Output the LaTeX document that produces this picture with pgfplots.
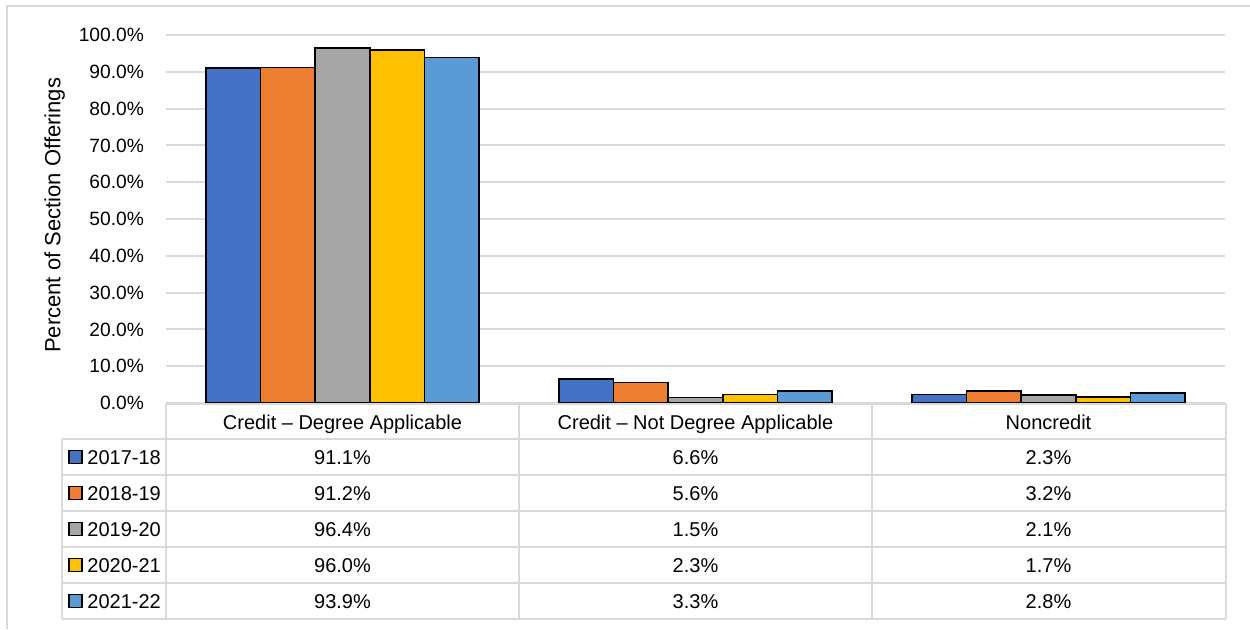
\documentclass[border=0pt]{standalone}
\usepackage{fontspec}
\setmainfont{Liberation Sans}
\usepackage{pgfplots}
\pgfplotsset{compat=1.18}
\definecolor{sA}{HTML}{4472C4}
\definecolor{sB}{HTML}{ED7D31}
\definecolor{sC}{HTML}{A5A5A5}
\definecolor{sD}{HTML}{FFC000}
\definecolor{sE}{HTML}{5B9BD5}
\definecolor{rule}{HTML}{D9D9D9}
\newcommand{\fs}{\fontsize{10}{12}\selectfont}
\begin{document}
\begin{tikzpicture}
\path[use as bounding box] (0,0) rectangle (625pt,314.5pt);
\begin{axis}[
  at={(83pt,113pt)}, anchor=south west,
  scale only axis,
  width=529.5pt, height=184pt,
  ybar=0pt, bar width=27.3pt,
  xmin=-0.5, xmax=2.5,
  ymin=0, ymax=100,
  ytick={0,10,...,100},
  xtick=\empty,
  axis line style={draw=none},
  tick style={draw=none},
  ymajorgrids,
  major grid style={rule, line width=1pt},
  /pgf/number format/assume math mode=true,
  yticklabel={\pgfmathprintnumber[fixed,fixed zerofill,precision=1]{\tick}\%},
  yticklabel style={font=\fontsize{9.6}{11}\selectfont, xshift=-7.5pt},
  ylabel={Percent of Section Offerings},
  ylabel style={font=\fontsize{11}{13}\selectfont, at={(axis description cs:-0.105,0.51)}, anchor=center},
  every axis plot/.append style={draw=black, line width=0.8pt},
]
\addplot[fill=sA] coordinates {(0,91.1) (1,6.6) (2,2.3)};
\addplot[fill=sB] coordinates {(0,91.2) (1,5.6) (2,3.2)};
\addplot[fill=sC] coordinates {(0,96.4) (1,1.5) (2,2.1)};
\addplot[fill=sD] coordinates {(0,96.0) (1,2.3) (2,1.7)};
\addplot[fill=sE] coordinates {(0,93.9) (1,3.3) (2,2.8)};
\end{axis}
\begin{scope}[x=0.5pt,y=-0.5pt,yshift=314.5pt]
% outer frame (only top and left visible)
\draw[rule, line width=1pt] (7,629) -- (7,5.5) -- (1250,5.5);
% data table
\draw[rule, line width=1pt] (166,404) -- (1226,404);
\foreach \y in {439,475,511,547,583,619}
  \draw[rule, line width=1pt] (62,\y) -- (1226,\y);
\draw[rule, line width=1pt] (62,439) -- (62,619);
\foreach \x in {166,519,872,1226}
  \draw[rule, line width=1pt] (\x,404) -- (\x,619);
\node[font=\fs, anchor=base] at (342.5,429) {Credit – Degree Applicable};
\node[font=\fs, anchor=base] at (695.5,429) {Credit – Not Degree Applicable};
\node[font=\fs, anchor=base] at (1048.5,429) {Noncredit};
\foreach \c/\lab/\a/\b/\d [count=\i from 0] in {
  sA/2017-18/91.1/6.6/2.3,
  sB/2018-19/91.2/5.6/3.2,
  sC/2019-20/96.4/1.5/2.1,
  sD/2020-21/96.0/2.3/1.7,
  sE/2021-22/93.9/3.3/2.8} {
  \pgfmathsetmacro{\yy}{457+36*\i}
  \pgfmathsetmacro{\yb}{\yy+7.5}
  \draw[black, line width=0.6pt, fill=\c] (69,\yy-6.5) rectangle (82,\yy+6.5);
  \node[font=\fs, anchor=base west, inner sep=0pt] at (87,\yb) {\lab};
  \node[font=\fs, anchor=base] at (342.5,\yb) {\a\%};
  \node[font=\fs, anchor=base] at (695.5,\yb) {\b\%};
  \node[font=\fs, anchor=base] at (1048.5,\yb) {\d\%};
}
\end{scope}
\end{tikzpicture}
\end{document}
